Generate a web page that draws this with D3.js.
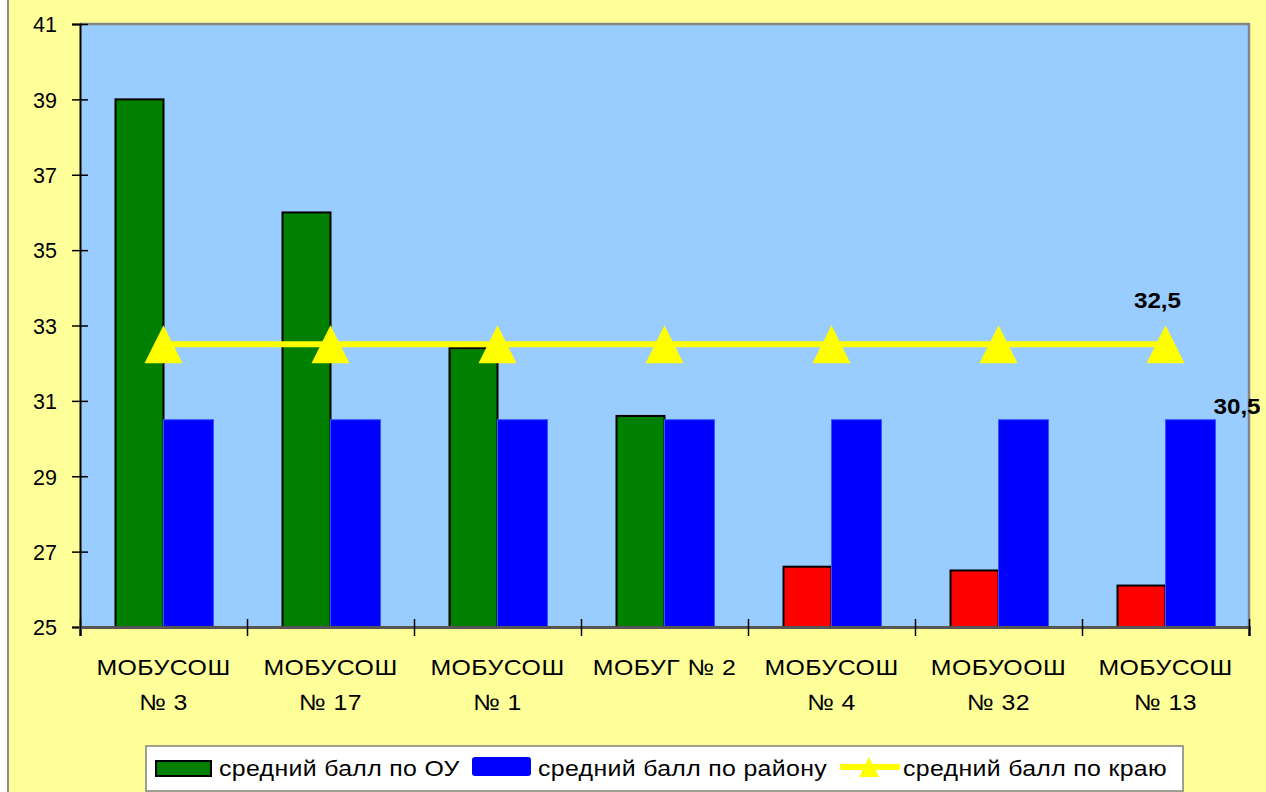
<!DOCTYPE html>
<html>
<head>
<meta charset="utf-8">
<script src="https://cdn.jsdelivr.net/npm/d3@7"></script>
<style>
  body { margin: 0; background: #fff; }
  text { font-family: "Liberation Sans", Arial, sans-serif; fill: #000; }
</style>
</head>
<body>
<div id="chart"></div>
<script>
// chart data
const schools = ['МОБУСОШ\n№ 3', 'МОБУСОШ\n№ 17', 'МОБУСОШ\n№ 1', 'МОБУГ № 2', 'МОБУСОШ\n№ 4', 'МОБУООШ\n№ 32', 'МОБУСОШ\n№ 13'];
const scoreSchool = [39, 36, 32.4, 30.6, 26.6, 26.5, 26.1];
const scoreDistrict = [30.5, 30.5, 30.5, 30.5, 30.5, 30.5, 30.5];
const scoreRegion = [32.5, 32.5, 32.5, 32.5, 32.5, 32.5, 32.5];
const yTicks = [25, 27, 29, 31, 33, 35, 37, 39, 41];
const legendNames = ['средний балл по ОУ', 'средний балл по району', 'средний балл по краю'];

const width = 1266;
const height = 792;
const svg = d3.select('#chart')
    .append('svg')
    .attr('width', width)
    .attr('height', height);

// plot area bounds
const plotLeft = 80, plotRight = 1249, plotTop = 24, plotBottom = 627;
// the original text is a bit stretched horizontally
const stretch = 1.13;

// chart background (yellow) with left border
svg.append('rect')
    .attr('x', 8).attr('y', -5)
    .attr('width', width).attr('height', height + 10)
    .attr('fill', '#FFFF99')
    .attr('stroke', '#8c8c8c')
    .attr('stroke-width', 2);

const x = d3.scaleBand().domain(d3.range(schools.length)).range([plotLeft, plotRight]);
const xSub = d3.scaleBand().domain(['ou', 'rayon']).range([0, x.bandwidth()]).paddingOuter(0.74);
const xBound = d3.scaleLinear().domain([0, schools.length]).range([plotLeft, plotRight]);
const y = d3.scaleLinear().domain([25, 41]).range([plotBottom, plotTop]);

// plot area
svg.append('rect')
    .attr('x', plotLeft).attr('y', plotTop)
    .attr('width', plotRight - plotLeft).attr('height', plotBottom - plotTop)
    .attr('fill', '#99CCFF');

// plot border top/right
svg.append('path')
    .attr('d', `M${plotLeft},${plotTop}H${plotRight}V${plotBottom}`)
    .attr('fill', 'none')
    .attr('stroke', '#858585')
    .attr('stroke-width', 2.5);

// school bars: green if not below district score, else red
svg.append('g').selectAll('rect')
    .data(scoreSchool)
    .join('rect')
    .attr('x', (d, i) => x(i) + xSub('ou'))
    .attr('y', d => y(d))
    .attr('width', xSub.bandwidth())
    .attr('height', d => y(25) - y(d))
    .attr('fill', (d, i) => d >= scoreDistrict[i] ? '#008000' : '#FF0000')
    .attr('stroke', '#000')
    .attr('stroke-width', 2);

// district bars
svg.append('g').selectAll('rect')
    .data(scoreDistrict)
    .join('rect')
    .attr('x', (d, i) => x(i) + xSub('rayon'))
    .attr('y', d => y(d))
    .attr('width', xSub.bandwidth() + 2)
    .attr('height', d => y(25) - y(d))
    .attr('fill', '#0000FF')
    .attr('stroke', '#3355ff')
    .attr('stroke-width', 1);

// region line
const cx = i => x(i) + x.bandwidth() / 2;
svg.append('path')
    .datum(scoreRegion)
    .attr('d', d3.line().x((d, i) => cx(i)).y(d => y(d)))
    .attr('fill', 'none')
    .attr('stroke', '#FFFF00')
    .attr('stroke-width', 6);

svg.append('g').selectAll('path')
    .data(scoreRegion)
    .join('path')
    .attr('transform', (d, i) => `translate(${cx(i)},${y(d)})`)
    .attr('d', 'M0,-19L19,19L-19,19Z')
    .attr('fill', '#FFFF00');

// axes
const yAxis = svg.append('g')
    .attr('transform', `translate(${plotLeft},0)`)
    .call(d3.axisLeft(y).tickValues(yTicks).tickSize(8).tickPadding(15));
yAxis.select('.domain').attr('stroke', '#000').attr('stroke-width', 2);
yAxis.selectAll('.tick line').attr('x1', 8).attr('stroke', '#000').attr('stroke-width', 1.5);
yAxis.selectAll('.tick text')
    .style('font-size', '21.5px')
    .attr('dy', '0.36em');

const xAxis = svg.append('g')
    .attr('transform', `translate(0,${plotBottom})`)
    .call(d3.axisBottom(xBound).ticks(schools.length).tickSize(9).tickFormat(''));
xAxis.select('.domain').attr('stroke', '#555').attr('stroke-width', 3);
xAxis.selectAll('.tick line').attr('y1', -8).attr('stroke', '#000').attr('stroke-width', 1.5);

// category labels
const labels = svg.append('g').selectAll('text')
    .data(schools)
    .join('text')
    .attr('transform', (d, i) => `translate(${cx(i)},675) scale(${stretch},1)`)
    .attr('text-anchor', 'middle')
    .style('font-size', '22px')
    .style('letter-spacing', '0.4px');
labels.selectAll('tspan')
    .data(d => d.split('\n'))
    .join('tspan')
    .attr('x', 0)
    .attr('dy', (d, i) => i === 0 ? 0 : 35)
    .text(d => d);

// data labels on last points
const last = schools.length - 1;
const fmt = v => d3.format('.1f')(v).replace('.', ',');
svg.append('text')
    .attr('transform', `translate(${cx(last) - 8},${y(scoreRegion[last]) - 36}) scale(1.1,1)`)
    .attr('text-anchor', 'middle')
    .style('font-size', '22px')
    .style('font-weight', 'bold')
    .text(fmt(scoreRegion[last]));
svg.append('text')
    .attr('transform', `translate(${x(last) + xSub('rayon') + xSub.bandwidth()},${y(scoreDistrict[last]) - 6}) scale(1.1,1)`)
    .style('font-size', '22px')
    .style('font-weight', 'bold')
    .text(fmt(scoreDistrict[last]));

// legend
const legend = svg.append('g');
legend.append('rect')
    .attr('x', 146).attr('y', 746)
    .attr('width', 1037).attr('height', 45)
    .attr('fill', '#fff')
    .attr('stroke', '#808080')
    .attr('stroke-width', 1.5);

const legendX = [156, 472, 838];
const legendRow = legend.selectAll('g')
    .data(legendNames)
    .join('g')
    .attr('transform', (d, i) => `translate(${legendX[i]},0)`);

legendRow.filter((d, i) => i === 0).append('rect')
    .attr('x', 0).attr('y', 761).attr('width', 55).attr('height', 15)
    .attr('fill', '#008000').attr('stroke', '#000').attr('stroke-width', 2);
legendRow.filter((d, i) => i === 1).append('rect')
    .attr('x', 0).attr('y', 757).attr('width', 59).attr('height', 19).attr('rx', 3)
    .attr('fill', '#0000FF');
const ySym = legendRow.filter((d, i) => i === 2);
ySym.append('line')
    .attr('x1', 2).attr('x2', 62).attr('y1', 767).attr('y2', 767)
    .attr('stroke', '#FFFF00').attr('stroke-width', 6);
ySym.append('path')
    .attr('transform', 'translate(31,767)')
    .attr('d', 'M0,-10L10,10L-10,10Z')
    .attr('fill', '#FFFF00');

legendRow.append('text')
    .attr('transform', (d, i) => `translate(${[63, 66, 65][i]},776) scale(${stretch},1)`)
    .style('font-size', '22px')
    .style('letter-spacing', '0.3px')
    .text(d => d);
</script>
</body>
</html>
